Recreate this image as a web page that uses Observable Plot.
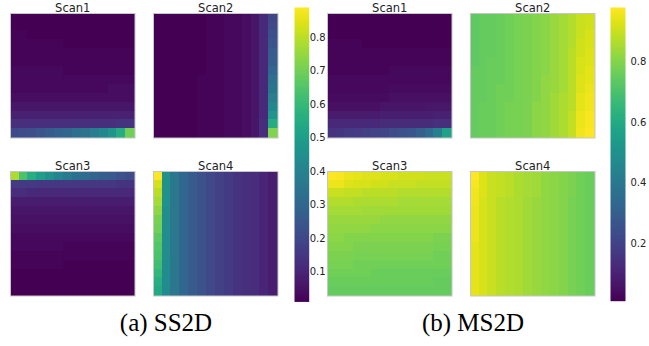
<!DOCTYPE html>
<html>
<head>
<meta charset="utf-8">
<script src="https://cdn.jsdelivr.net/npm/d3@7"></script>
<script src="https://cdn.jsdelivr.net/npm/@observablehq/plot@0.6"></script>
<style>
  html, body { margin: 0; padding: 0; background: #fff; }
  #root { position: relative; width: 649px; height: 346px; overflow: hidden; background: #fff; }
  .cap { position: absolute; font-family: "Liberation Serif", "Times New Roman", serif; font-size: 25px; color: #000; text-align: center; line-height: 1; white-space: nowrap; }
</style>
</head>
<body>
<div id="root"></div>
<script>
// ---------- data: 14x14 attention maps, rows top -> bottom, columns left -> right ----------
const scanNames = ["Scan1", "Scan2", "Scan3", "Scan4"];
const panelCaptions = ["(a) SS2D", "(b) MS2D"];
const ss2dTicks = [0.1, 0.2, 0.3, 0.4, 0.5, 0.6, 0.7, 0.8];
const ms2dTicks = [0.2, 0.4, 0.6, 0.8];

const ss2dScan1 = [
"0.01 0.01 0.01 0.01 0.01 0.01 0.01 0.01 0.01 0.01 0.01 0.01 0.01 0.01",
"0.01 0.01 0.01 0.01 0.01 0.01 0.01 0.01 0.01 0.01 0.01 0.01 0.01 0.01",
"0.02 0.02 0.01 0.01 0.01 0.01 0.01 0.01 0.01 0.01 0.01 0.01 0.01 0.01",
"0.02 0.02 0.02 0.02 0.02 0.02 0.01 0.01 0.01 0.01 0.01 0.01 0.01 0.01",
"0.02 0.02 0.02 0.02 0.02 0.02 0.02 0.02 0.02 0.02 0.02 0.02 0.02 0.02",
"0.02 0.02 0.02 0.02 0.02 0.02 0.02 0.02 0.02 0.02 0.02 0.02 0.02 0.02",
"0.03 0.03 0.03 0.03 0.03 0.03 0.02 0.02 0.02 0.02 0.02 0.02 0.02 0.02",
"0.03 0.03 0.03 0.03 0.03 0.03 0.03 0.03 0.03 0.03 0.03 0.03 0.03 0.03",
"0.03 0.03 0.03 0.03 0.03 0.03 0.03 0.03 0.03 0.03 0.03 0.04 0.04 0.04",
"0.04 0.04 0.04 0.04 0.04 0.04 0.04 0.04 0.04 0.04 0.04 0.04 0.04 0.04",
"0.06 0.06 0.06 0.06 0.06 0.06 0.06 0.06 0.06 0.06 0.06 0.06 0.06 0.06",
"0.09 0.09 0.09 0.09 0.09 0.09 0.09 0.09 0.09 0.09 0.09 0.09 0.09 0.09",
"0.13 0.13 0.13 0.13 0.13 0.13 0.13 0.13 0.13 0.13 0.13 0.13 0.14 0.14",
"0.20 0.21 0.22 0.24 0.26 0.28 0.30 0.33 0.35 0.38 0.42 0.47 0.55 0.70"
];

const ss2dScan2 = [
"0.01 0.01 0.01 0.01 0.01 0.01 0.02 0.02 0.03 0.03 0.04 0.06 0.11 0.19",
"0.01 0.01 0.01 0.01 0.01 0.01 0.02 0.02 0.03 0.03 0.04 0.06 0.11 0.20",
"0.01 0.01 0.01 0.01 0.01 0.01 0.02 0.02 0.03 0.03 0.04 0.06 0.11 0.22",
"0.01 0.01 0.01 0.01 0.01 0.01 0.02 0.02 0.03 0.03 0.04 0.06 0.11 0.24",
"0.01 0.01 0.01 0.01 0.01 0.01 0.02 0.02 0.03 0.03 0.04 0.06 0.11 0.26",
"0.01 0.01 0.01 0.01 0.01 0.01 0.02 0.02 0.03 0.03 0.04 0.06 0.11 0.27",
"0.01 0.01 0.01 0.01 0.01 0.01 0.02 0.02 0.03 0.03 0.04 0.06 0.11 0.30",
"0.01 0.01 0.01 0.01 0.01 0.02 0.02 0.02 0.03 0.03 0.04 0.06 0.11 0.33",
"0.01 0.01 0.01 0.01 0.01 0.02 0.02 0.02 0.03 0.03 0.04 0.06 0.11 0.35",
"0.01 0.01 0.01 0.01 0.01 0.02 0.02 0.02 0.03 0.03 0.04 0.06 0.11 0.38",
"0.01 0.01 0.01 0.01 0.01 0.02 0.02 0.02 0.03 0.03 0.04 0.06 0.11 0.42",
"0.01 0.01 0.01 0.01 0.01 0.02 0.02 0.02 0.03 0.03 0.04 0.06 0.11 0.47",
"0.01 0.01 0.01 0.01 0.01 0.02 0.02 0.02 0.03 0.03 0.04 0.06 0.12 0.55",
"0.01 0.01 0.01 0.01 0.01 0.02 0.02 0.02 0.03 0.03 0.04 0.06 0.12 0.72"
];

const ss2dScan3 = [
"0.78 0.64 0.56 0.50 0.45 0.41 0.37 0.34 0.32 0.29 0.27 0.26 0.23 0.21",
"0.16 0.16 0.16 0.15 0.15 0.15 0.15 0.15 0.15 0.15 0.15 0.15 0.14 0.14",
"0.12 0.12 0.11 0.11 0.11 0.11 0.11 0.11 0.11 0.11 0.11 0.11 0.11 0.11",
"0.08 0.08 0.08 0.08 0.08 0.08 0.08 0.08 0.08 0.08 0.08 0.08 0.08 0.08",
"0.06 0.06 0.06 0.06 0.06 0.06 0.06 0.06 0.06 0.06 0.06 0.06 0.06 0.06",
"0.05 0.05 0.05 0.05 0.05 0.05 0.05 0.05 0.05 0.05 0.05 0.05 0.05 0.05",
"0.04 0.04 0.04 0.04 0.04 0.04 0.04 0.04 0.04 0.04 0.04 0.04 0.04 0.04",
"0.03 0.03 0.03 0.03 0.03 0.03 0.03 0.03 0.03 0.03 0.03 0.03 0.03 0.03",
"0.03 0.03 0.03 0.03 0.03 0.03 0.02 0.02 0.02 0.02 0.02 0.02 0.02 0.02",
"0.02 0.02 0.02 0.02 0.02 0.02 0.02 0.02 0.02 0.02 0.02 0.02 0.02 0.02",
"0.02 0.02 0.02 0.02 0.02 0.02 0.01 0.01 0.01 0.01 0.01 0.01 0.01 0.01",
"0.01 0.01 0.01 0.01 0.01 0.01 0.01 0.01 0.01 0.01 0.01 0.01 0.01 0.01",
"0.01 0.01 0.01 0.01 0.01 0.01 0.01 0.01 0.01 0.01 0.01 0.01 0.01 0.01",
"0.01 0.01 0.01 0.01 0.01 0.01 0.01 0.01 0.01 0.01 0.01 0.01 0.01 0.01"
];

const ss2dScan4 = [
"0.89 0.45 0.36 0.30 0.26 0.23 0.20 0.18 0.16 0.14 0.13 0.12 0.10 0.08",
"0.83 0.45 0.36 0.30 0.26 0.23 0.20 0.18 0.16 0.14 0.13 0.12 0.10 0.08",
"0.80 0.45 0.36 0.30 0.26 0.23 0.20 0.18 0.16 0.14 0.13 0.12 0.10 0.08",
"0.77 0.45 0.36 0.30 0.26 0.23 0.20 0.18 0.16 0.14 0.13 0.12 0.10 0.08",
"0.74 0.44 0.36 0.30 0.26 0.23 0.20 0.18 0.16 0.14 0.13 0.12 0.10 0.08",
"0.71 0.44 0.36 0.30 0.26 0.23 0.20 0.18 0.16 0.14 0.13 0.12 0.10 0.08",
"0.70 0.44 0.36 0.30 0.26 0.23 0.20 0.18 0.16 0.14 0.13 0.12 0.10 0.08",
"0.67 0.44 0.36 0.30 0.26 0.23 0.20 0.18 0.16 0.14 0.13 0.12 0.10 0.08",
"0.65 0.44 0.36 0.30 0.26 0.23 0.20 0.18 0.16 0.14 0.13 0.12 0.10 0.08",
"0.64 0.44 0.36 0.30 0.26 0.23 0.20 0.18 0.16 0.14 0.13 0.12 0.10 0.08",
"0.62 0.43 0.36 0.30 0.26 0.23 0.20 0.18 0.16 0.14 0.13 0.12 0.10 0.08",
"0.59 0.43 0.36 0.30 0.26 0.23 0.20 0.18 0.16 0.14 0.13 0.12 0.10 0.08",
"0.56 0.43 0.36 0.30 0.26 0.23 0.20 0.18 0.16 0.14 0.13 0.12 0.10 0.08",
"0.54 0.43 0.36 0.30 0.26 0.23 0.20 0.18 0.16 0.14 0.13 0.12 0.10 0.08"
];

const ms2dScan1 = [
"0.01 0.01 0.01 0.01 0.01 0.01 0.01 0.01 0.01 0.01 0.01 0.01 0.01 0.01",
"0.01 0.01 0.01 0.01 0.01 0.01 0.01 0.01 0.01 0.01 0.01 0.01 0.01 0.01",
"0.01 0.01 0.01 0.01 0.01 0.01 0.01 0.01 0.01 0.01 0.01 0.01 0.01 0.01",
"0.02 0.02 0.02 0.02 0.01 0.01 0.01 0.01 0.01 0.01 0.01 0.01 0.01 0.01",
"0.02 0.02 0.02 0.02 0.02 0.02 0.02 0.02 0.02 0.02 0.02 0.02 0.02 0.02",
"0.02 0.02 0.02 0.02 0.02 0.02 0.02 0.02 0.02 0.02 0.02 0.02 0.02 0.02",
"0.02 0.02 0.02 0.02 0.02 0.02 0.02 0.03 0.03 0.03 0.03 0.03 0.03 0.03",
"0.03 0.03 0.03 0.03 0.03 0.03 0.03 0.03 0.03 0.03 0.03 0.03 0.03 0.03",
"0.03 0.03 0.03 0.03 0.03 0.03 0.03 0.04 0.04 0.04 0.04 0.04 0.04 0.04",
"0.04 0.04 0.04 0.04 0.04 0.04 0.04 0.05 0.05 0.05 0.05 0.05 0.05 0.05",
"0.05 0.05 0.05 0.05 0.05 0.05 0.06 0.06 0.06 0.06 0.06 0.07 0.07 0.07",
"0.08 0.08 0.08 0.08 0.08 0.08 0.09 0.09 0.09 0.09 0.09 0.09 0.10 0.10",
"0.12 0.12 0.12 0.12 0.12 0.12 0.13 0.13 0.13 0.13 0.13 0.13 0.14 0.14",
"0.15 0.16 0.17 0.18 0.19 0.20 0.21 0.23 0.25 0.27 0.30 0.35 0.42 0.57"
];

const ms2dScan2 = [
"0.74 0.75 0.75 0.76 0.77 0.78 0.79 0.80 0.81 0.83 0.85 0.87 0.90 0.91",
"0.74 0.75 0.75 0.76 0.77 0.78 0.79 0.80 0.81 0.83 0.85 0.87 0.90 0.91",
"0.74 0.75 0.75 0.76 0.77 0.78 0.79 0.80 0.81 0.83 0.85 0.87 0.90 0.92",
"0.74 0.75 0.75 0.76 0.77 0.78 0.79 0.80 0.81 0.83 0.85 0.87 0.91 0.92",
"0.74 0.75 0.75 0.76 0.77 0.78 0.79 0.80 0.81 0.83 0.85 0.88 0.91 0.93",
"0.74 0.75 0.76 0.76 0.77 0.78 0.79 0.80 0.81 0.83 0.85 0.88 0.92 0.93",
"0.75 0.75 0.76 0.76 0.77 0.78 0.79 0.80 0.81 0.83 0.85 0.88 0.92 0.94",
"0.75 0.75 0.76 0.76 0.77 0.78 0.79 0.80 0.82 0.83 0.85 0.88 0.93 0.94",
"0.75 0.75 0.76 0.77 0.77 0.78 0.79 0.80 0.82 0.83 0.85 0.88 0.93 0.95",
"0.75 0.75 0.76 0.77 0.77 0.78 0.79 0.80 0.82 0.84 0.86 0.88 0.94 0.96",
"0.75 0.76 0.76 0.77 0.78 0.78 0.79 0.81 0.82 0.84 0.86 0.88 0.94 0.96",
"0.75 0.76 0.76 0.77 0.78 0.78 0.79 0.81 0.82 0.84 0.86 0.89 0.95 0.97",
"0.75 0.76 0.76 0.77 0.78 0.78 0.79 0.81 0.82 0.84 0.86 0.89 0.95 0.97",
"0.75 0.76 0.76 0.77 0.78 0.78 0.79 0.81 0.82 0.84 0.86 0.89 0.96 0.98"
];

const ms2dScan3 = [
"0.98 0.97 0.95 0.94 0.93 0.93 0.92 0.92 0.91 0.91 0.91 0.90 0.90 0.90",
"0.95 0.95 0.93 0.92 0.92 0.91 0.91 0.90 0.90 0.90 0.89 0.89 0.89 0.89",
"0.90 0.90 0.89 0.89 0.88 0.88 0.88 0.88 0.87 0.87 0.87 0.87 0.87 0.87",
"0.87 0.87 0.87 0.86 0.86 0.86 0.86 0.86 0.85 0.85 0.85 0.85 0.85 0.85",
"0.85 0.85 0.85 0.85 0.84 0.84 0.84 0.84 0.84 0.84 0.84 0.84 0.84 0.84",
"0.83 0.83 0.83 0.83 0.83 0.83 0.82 0.82 0.82 0.82 0.82 0.82 0.82 0.82",
"0.82 0.82 0.82 0.82 0.82 0.81 0.81 0.81 0.81 0.81 0.81 0.81 0.81 0.81",
"0.81 0.81 0.80 0.80 0.80 0.80 0.80 0.80 0.80 0.80 0.80 0.80 0.79 0.79",
"0.80 0.80 0.80 0.79 0.79 0.79 0.79 0.79 0.79 0.79 0.79 0.79 0.78 0.78",
"0.79 0.79 0.79 0.78 0.78 0.78 0.78 0.78 0.78 0.78 0.78 0.78 0.77 0.77",
"0.78 0.78 0.78 0.77 0.77 0.77 0.77 0.77 0.77 0.77 0.77 0.77 0.77 0.77",
"0.77 0.77 0.77 0.77 0.77 0.76 0.76 0.76 0.76 0.76 0.76 0.76 0.76 0.76",
"0.76 0.76 0.76 0.76 0.76 0.76 0.76 0.76 0.76 0.76 0.76 0.76 0.75 0.75",
"0.75 0.75 0.75 0.75 0.75 0.75 0.75 0.75 0.75 0.75 0.75 0.75 0.75 0.75"
];

const ms2dScan4 = [
"0.98 0.93 0.90 0.89 0.88 0.86 0.85 0.84 0.82 0.81 0.80 0.79 0.77 0.76",
"0.97 0.93 0.90 0.89 0.88 0.86 0.85 0.84 0.82 0.81 0.80 0.79 0.77 0.76",
"0.96 0.93 0.90 0.89 0.88 0.86 0.85 0.84 0.82 0.81 0.80 0.79 0.77 0.76",
"0.96 0.92 0.90 0.88 0.87 0.86 0.84 0.83 0.82 0.81 0.80 0.78 0.77 0.76",
"0.95 0.92 0.90 0.88 0.87 0.86 0.84 0.83 0.82 0.81 0.80 0.78 0.77 0.76",
"0.95 0.92 0.90 0.88 0.87 0.86 0.84 0.83 0.82 0.81 0.80 0.78 0.77 0.76",
"0.95 0.92 0.90 0.88 0.87 0.86 0.84 0.83 0.82 0.81 0.80 0.78 0.77 0.76",
"0.95 0.92 0.90 0.88 0.87 0.86 0.84 0.83 0.82 0.81 0.80 0.78 0.77 0.76",
"0.94 0.92 0.90 0.88 0.87 0.86 0.84 0.83 0.82 0.81 0.80 0.78 0.77 0.76",
"0.94 0.92 0.90 0.88 0.87 0.86 0.84 0.83 0.82 0.81 0.80 0.78 0.77 0.76",
"0.94 0.92 0.90 0.88 0.87 0.86 0.84 0.83 0.82 0.81 0.80 0.78 0.77 0.76",
"0.94 0.92 0.90 0.88 0.87 0.86 0.84 0.83 0.82 0.81 0.80 0.78 0.77 0.76",
"0.94 0.92 0.90 0.88 0.87 0.86 0.84 0.83 0.82 0.81 0.80 0.78 0.77 0.76",
"0.94 0.92 0.90 0.88 0.87 0.86 0.84 0.83 0.82 0.81 0.80 0.78 0.77 0.76"
];

// ---------- helpers ----------
const root = document.getElementById("root");
const parseRows = rows => rows.map(line => line.trim().split(/\s+/).map(Number));
function toCells(rows) {
  const out = [];
  parseRows(rows).forEach((vals, r) => vals.forEach((v, c) => out.push({row: r, col: c, v})));
  return out;
}
function place(el, left, top) {
  el.style.position = "absolute";
  el.style.left = left + "px";
  el.style.top = top + "px";
  root.appendChild(el);
}

const SIZE = 124.5;
function heatmap(rows, domain, name, left, top) {
  const cells = toCells(rows);
  const nRows = rows.length, nCols = parseRows(rows)[0].length;
  const svg = Plot.plot({
    width: SIZE + 4, height: SIZE + 18,
    marginLeft: 2, marginRight: 2, marginTop: 16, marginBottom: 2,
    x: {type: "band", domain: d3.range(nCols), padding: 0, round: false, axis: null},
    y: {type: "band", domain: d3.range(nRows), padding: 0, round: false, axis: null},
    color: {type: "linear", scheme: "viridis", domain},
    style: {fontFamily: "DejaVu Sans", background: "transparent", overflow: "visible", color: "#222"},
    marks: [
      Plot.cell(cells, {x: "col", y: "row", fill: "v", inset: -0.3, shapeRendering: "crispEdges"}),
      Plot.frame({stroke: "#c6c6c6", strokeWidth: 1}),
      Plot.text([name], {text: d => d, frameAnchor: "top", dy: -2, lineAnchor: "bottom", fontSize: 11.5, fill: "#222"})
    ]
  });
  place(svg, left - 2, top - 16);
}

function colorbar(domain, ticks, left, top, bottom, barWidth, pad) {
  const svg = Plot.plot({
    width: barWidth + 34, height: bottom + 4,
    marginLeft: 0, marginRight: 34, marginTop: top, marginBottom: 4,
    x: {domain: [0, 1], axis: null},
    y: {domain, axis: null},
    color: {type: "linear", scheme: "viridis", domain},
    style: {fontFamily: "DejaVu Sans", background: "transparent", overflow: "visible", color: "#222"},
    marks: [
      Plot.raster({x1: 0, x2: 1, y1: domain[0], y2: domain[1], width: 1, height: 300, fill: (x, y) => y, imageRendering: "auto"}),
      Plot.axisY({ticks, anchor: "right", tickSize: 0, tickPadding: pad, tickFormat: d3.format(".1f"), fontSize: 10, label: null})
    ]
  });
  place(svg, left, 0);
}

// ---------- panels ----------
const ss2d = [ss2dScan1, ss2dScan2, ss2dScan3, ss2dScan4];
const ms2d = [ms2dScan1, ms2dScan2, ms2dScan3, ms2dScan4];
const ext = maps => d3.extent(maps.flatMap(m => parseRows(m).flat()));
const ssDomain = ext(ss2d);
const msDomain = ext(ms2d);

const panelA = {maps: ss2d, domain: ssDomain, lefts: [10, 153], tops: [13, 171]};
const panelB = {maps: ms2d, domain: msDomain, lefts: [327, 469.5], tops: [13, 171]};
[panelA, panelB].forEach(p => {
  p.maps.forEach((m, k) => heatmap(m, p.domain, scanNames[k], p.lefts[k % 2], p.tops[Math.floor(k / 2)]));
});

colorbar(ssDomain, ss2dTicks, 294, 7, 301.5, 14.7, 0.5);
colorbar(msDomain, ms2dTicks, 610, 7, 300.7, 15, 5);

// captions
[[panelCaptions[0], 166], [panelCaptions[1], 473]].forEach(([t, cx]) => {
  const d = document.createElement("div");
  d.className = "cap";
  d.textContent = t;
  d.style.width = "200px";
  d.style.left = (cx - 100) + "px";
  d.style.top = "310px";
  root.appendChild(d);
});
</script>
</body>
</html>
